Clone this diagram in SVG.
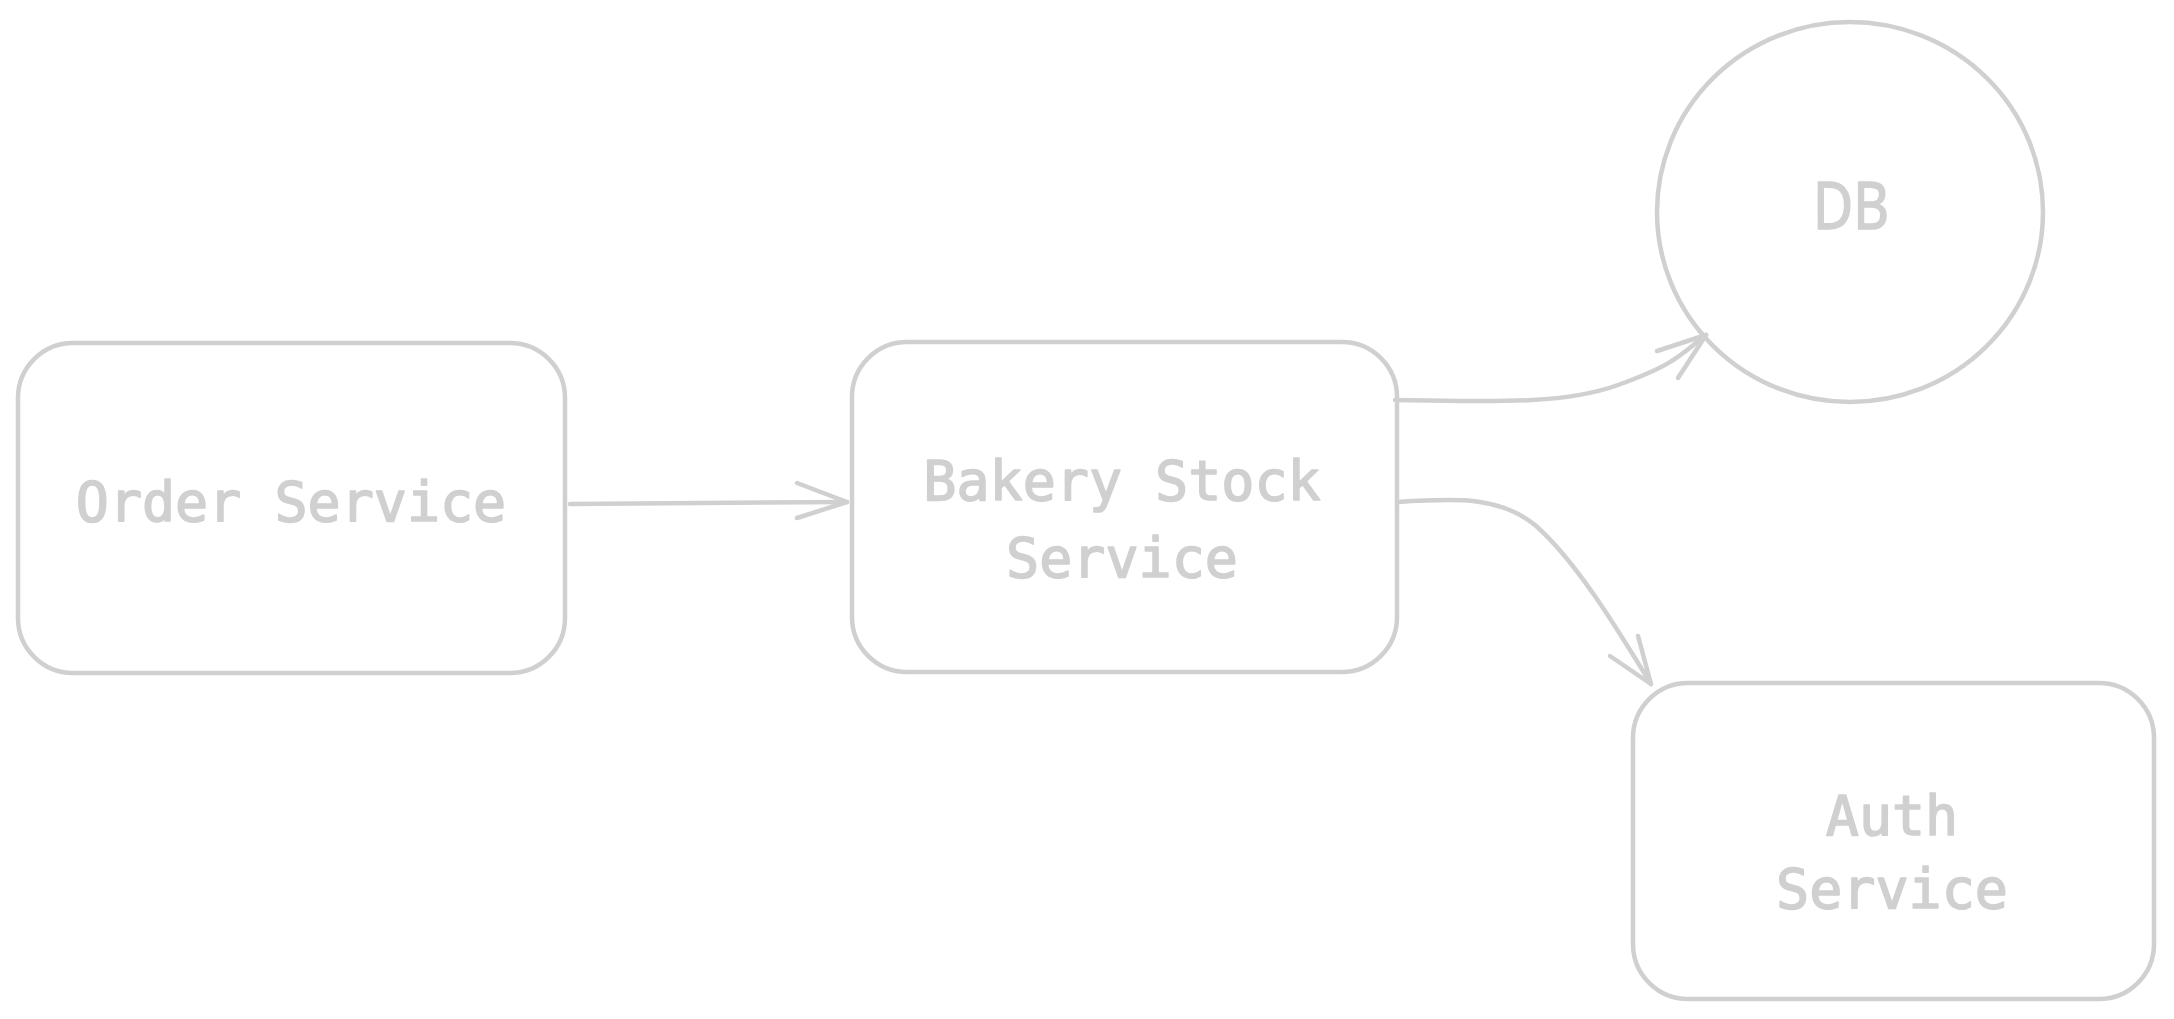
<svg xmlns="http://www.w3.org/2000/svg" width="2174" height="1019" viewBox="0 0 2174 1019">
  <style>
    .shape { fill: #ffffff; stroke: #d0d0d0; stroke-width: 4.5; stroke-linecap: round; stroke-linejoin: round; }
    .edge { fill: none; stroke: #d0d0d0; stroke-width: 4.5; stroke-linecap: round; stroke-linejoin: round; }
    .label { fill: #d0d0d0; stroke: #d0d0d0; stroke-width: 1.6; stroke-linejoin: round; font-family: "DejaVu Sans Mono", "Liberation Mono", monospace; font-size: 55px; text-anchor: middle; }
    .hand { fill: #d0d0d0; stroke: #d0d0d0; stroke-width: 1.6; stroke-linejoin: round; font-family: "Noto Sans", "Liberation Sans", sans-serif; font-size: 66px; text-anchor: middle; }
  </style>
  <rect x="0" y="0" width="2174" height="1019" fill="#ffffff"/>

  <g id="order-service">
    <rect class="shape" x="18" y="343" width="547" height="330" rx="55" ry="55"/>
    <text class="label" x="291" y="521">Order Service</text>
  </g>

  <g id="bakery-stock-service">
    <rect class="shape" x="852" y="342" width="545" height="330" rx="55" ry="55"/>
    <text class="label" x="1122" y="500">Bakery Stock</text>
    <text class="label" x="1122" y="577">Service</text>
  </g>

  <g id="db">
    <ellipse class="shape" cx="1850" cy="212" rx="193" ry="190"/>
    <text class="hand" x="1851" y="229" textLength="76" lengthAdjust="spacingAndGlyphs">DB</text>
  </g>

  <g id="auth-service">
    <rect class="shape" x="1633" y="683" width="521" height="316" rx="55" ry="55"/>
    <text class="label" x="1892" y="835">Auth</text>
    <text class="label" x="1892" y="908">Service</text>
  </g>

  <g id="connectors">
    <path class="edge" d="M570,504 L847,502"/>
    <path class="edge" d="M797,483 L847,502 L797,518"/>

    <path class="edge" d="M1395,400 C1480,401 1560,406 1618,385 S1680,355 1706,335"/>
    <path class="edge" d="M1657,351 L1706,335 L1678,378"/>

    <path class="edge" d="M1398,502 C1460,498 1500,497 1535,525 C1575,560 1615,625 1651,684"/>
    <path class="edge" d="M1638,636 L1651,684 L1610,656"/>
  </g>
</svg>
